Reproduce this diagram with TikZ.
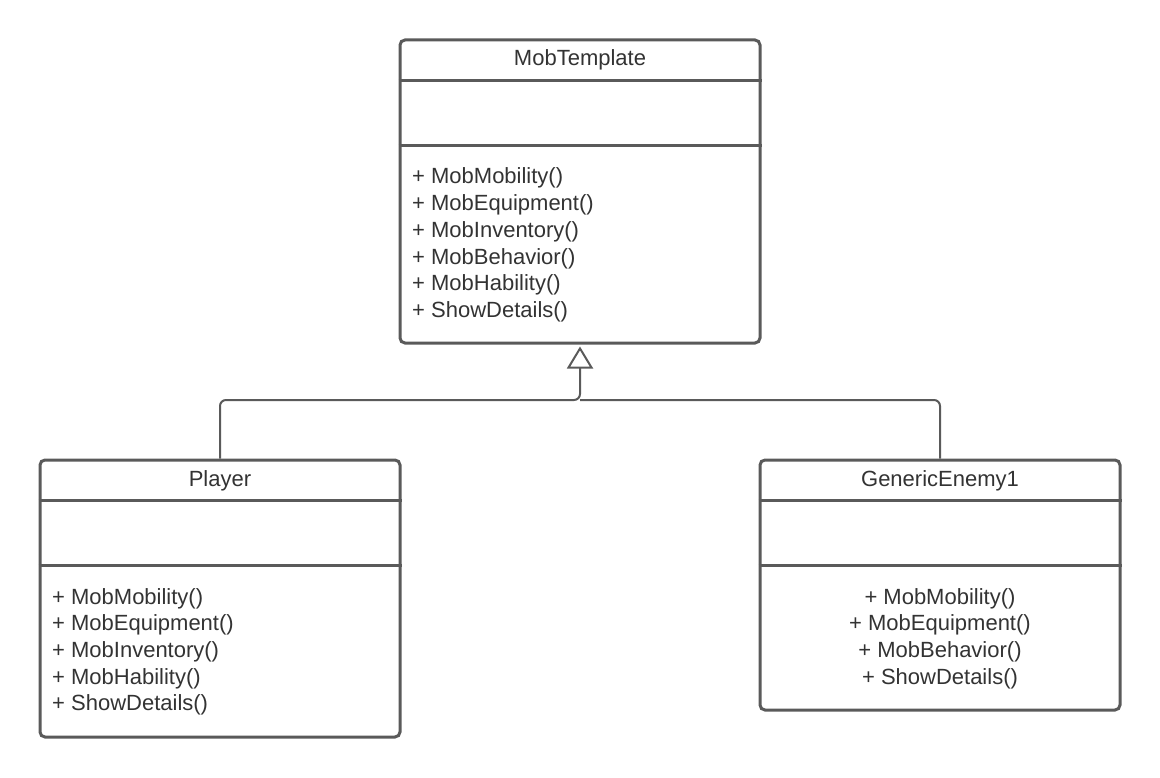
\documentclass[tikz,border=0pt]{standalone}
\usepackage{fontspec}
\setmainfont{Liberation Sans}
\usetikzlibrary{arrows.meta}
\definecolor{ln}{HTML}{5A5A5A}
\definecolor{tx}{HTML}{333333}
\begin{document}
\begin{tikzpicture}[x=1pt,y=-1pt,
  umlbox/.style={draw=ln, line width=3pt, rounded corners=5pt, minimum width=360pt, inner sep=0pt, fill=white},
  divline/.style={draw=ln, line width=3pt},
  txt/.style={text=tx, inner sep=0pt, font=\fontsize{22pt}{26.67pt}\selectfont},
  conn/.style={draw=ln, line width=2pt, rounded corners=6pt}]
\useasboundingbox (0,0) rectangle (1160,778);
% boxes
\node[umlbox, minimum height=303pt] (mt) at (580,191.5) {};
\node[umlbox, minimum height=277pt] (pl) at (220,598.5) {};
\node[umlbox, minimum height=250pt] (ge) at (940,585) {};
% dividers
\foreach \b in {mt,pl,ge}{
  \draw[divline] ([yshift=-42pt]\b.north west) -- ([yshift=-42pt]\b.north east);
  \draw[divline] ([yshift=-107pt]\b.north west) -- ([yshift=-107pt]\b.north east);
}
% titles
\node[txt, anchor=base] (mtt) at (580,66) {MobTemplate};
\node[txt, anchor=base] (plt) at (220,486) {Player};
\node[txt, anchor=base] (get) at (940,486) {GenericEnemy1};
% methods
\foreach \s [count=\i] in {MobMobility(),MobEquipment(),MobInventory(),MobBehavior(),MobHability(),ShowDetails()}
  \node[txt, anchor=base west] (mtm\i) at (412,{184+26.67*(\i-1)}) {+ \s};
\foreach \s [count=\i] in {MobMobility(),MobEquipment(),MobInventory(),MobHability(),ShowDetails()}
  \node[txt, anchor=base west] (plm\i) at (52,{604+26.67*(\i-1)}) {+ \s};
\foreach \s [count=\i] in {MobMobility(),MobEquipment(),MobBehavior(),ShowDetails()}
  \node[txt, anchor=base] (gem\i) at (940,{604+26.67*(\i-1)}) {+ \s};
% connectors
\coordinate (j) at (580,400);
\draw[conn, -{Triangle[open, length=22pt, width=26pt, line width=2pt]}] (pl.north) |- (j) -- ([yshift=-2pt]mt.south);
\draw[conn] (ge.north) |- (j);
\end{tikzpicture}
\end{document}
